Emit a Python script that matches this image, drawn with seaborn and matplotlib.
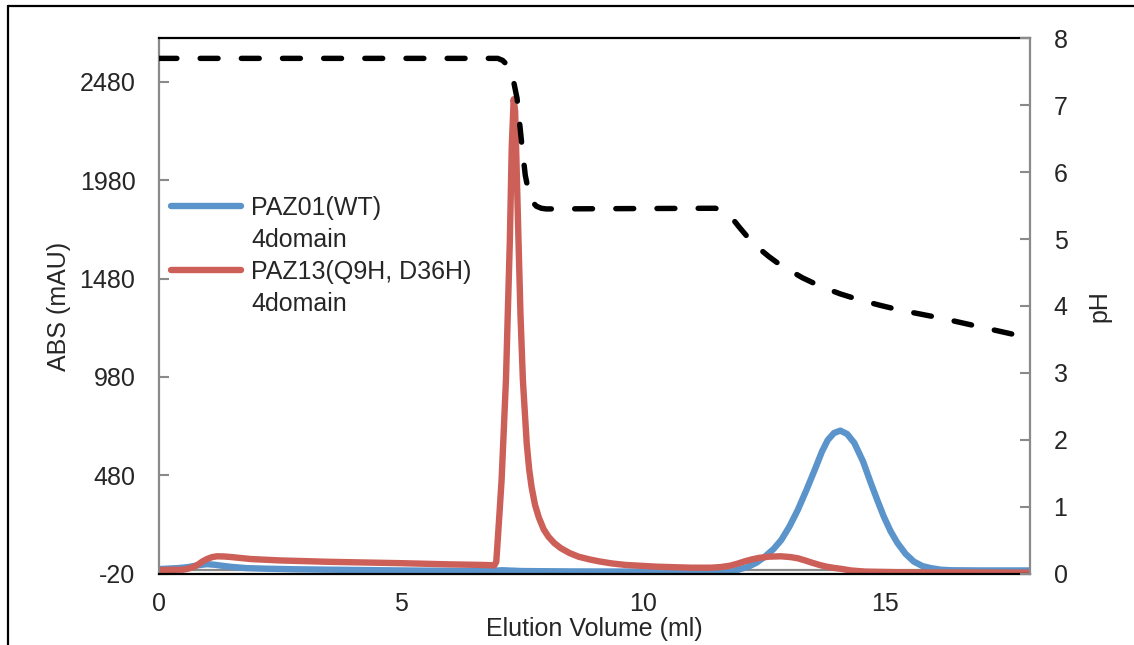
import matplotlib
matplotlib.use("Agg")
import matplotlib.pyplot as plt
from matplotlib.lines import Line2D
import pandas as pd
import seaborn as sns

# ---- data -------------------------------------------------------------
# PAZ01(WT) 4domain absorbance trace
wt_volume = [0.0, 0.4, 0.6, 0.8, 0.99, 1.15, 1.3, 1.5, 1.8, 2.2, 2.8, 3.5,
             5.0, 6.7, 7.1, 7.5, 8.5, 10.0, 11.5, 11.85, 12.0, 12.18, 12.35,
             12.52, 12.7, 12.86, 13.03, 13.2, 13.38, 13.55, 13.7, 13.82,
             13.95, 14.08, 14.22, 14.37, 14.55, 14.71, 14.85, 14.98, 15.12,
             15.26, 15.43, 15.6, 15.78, 15.95, 16.15, 16.36, 17.0, 18.0]
wt_abs = [3, 8, 13, 22, 28, 25, 20, 14, 8, 5, 2, 0,
          -4, -7, -3, -7, -9, -10, -11, -9, 2, 15, 36,
          66, 105, 151, 220, 303, 405, 507, 600, 659,
          695, 707, 690, 644, 550, 441, 350, 269, 195,
          136, 80, 41, 18, 8, 0, -3, -4, -4]

# PAZ13(Q9H, D36H) 4domain absorbance trace
mut_volume = [0.0, 0.5, 0.6, 0.7, 0.8, 0.9, 1.0, 1.1, 1.2, 1.35, 1.5, 1.9,
              2.5, 3.5, 5.0, 6.0, 6.7, 6.93, 6.97, 7.0, 7.04, 7.08, 7.12,
              7.17, 7.21, 7.25, 7.29, 7.33, 7.36, 7.39, 7.43, 7.47, 7.52,
              7.56, 7.6, 7.65, 7.7, 7.77, 7.85, 7.95, 8.05, 8.17, 8.3, 8.48,
              8.67, 8.9, 9.1, 9.35, 9.64, 10.3, 11.0, 11.4, 11.6, 11.8,
              11.95, 12.1, 12.25, 12.4, 12.6, 12.85, 13.05, 13.2, 13.35,
              13.5, 13.65, 13.8, 13.95, 14.1, 14.3, 14.6, 15.5, 18.0]
mut_abs = [-2, 0, 5, 12, 25, 42, 55, 64, 68, 67, 64, 54,
           47, 40, 33, 27, 24, 22, 40, 150, 300, 456, 680,
           964, 1320, 1667, 2150, 2392, 2330, 2050, 1667, 1300, 964,
           800, 640, 510, 420, 330, 265, 205, 167, 135, 110, 85,
           66, 52, 42, 32, 24, 15, 10, 10, 13, 20,
           30, 42, 52, 60, 66, 68, 64, 58, 47,
           35, 24, 15, 9, 4, -4, -10, -14, -15]

# pH gradient
ph_volume = [0.0, 7.0, 7.1, 7.2, 7.27, 7.33, 7.4, 7.5, 7.57, 7.64, 7.72,
             7.8, 7.9, 8.0, 11.5, 11.62, 11.76, 11.9, 12.0, 12.14, 12.28,
             12.45, 12.6, 12.77, 12.94, 13.3, 13.68, 14.08, 14.48, 14.9,
             15.3, 16.15, 16.95, 18.0]
ph_value = [7.7, 7.7, 7.67, 7.6, 7.5, 7.35, 7.1, 6.4, 5.95, 5.7, 5.55,
            5.49, 5.46, 5.45, 5.46, 5.43, 5.36, 5.26, 5.17, 5.05, 4.94,
            4.83, 4.74, 4.65, 4.57, 4.42, 4.29, 4.18, 4.09, 4.01,
            3.94, 3.82, 3.69, 3.52]

abs_ticks = [-20, 480, 980, 1480, 1980, 2480]
ph_ticks = [0, 1, 2, 3, 4, 5, 6, 7, 8]
vol_ticks = [0, 5, 10, 15]

wt_label = ["PAZ01(WT)", "4domain"]
mut_label = ["PAZ13(Q9H, D36H)", "4domain"]

# ---- style ------------------------------------------------------------
sns.set_style("white")
plt.rcParams["font.family"] = ["Liberation Sans", "DejaVu Sans"]
plt.rcParams["font.size"] = 18
plt.rcParams["axes.unicode_minus"] = False

BLUE = "#5B94CA"
RED = "#CC5F58"
GRAY = "#8A8A8A"
LW = 4.6

W, H = 1134, 645
fig = plt.figure(figsize=(W / 100, H / 100), dpi=100)
ax = fig.add_axes([159 / W, 1 - 573.6 / H, (1030 - 159) / W, (573.6 - 38.3) / H])

wt_df = pd.DataFrame({"volume": wt_volume, "abs": wt_abs})
mut_df = pd.DataFrame({"volume": mut_volume, "abs": mut_abs})
ph_df = pd.DataFrame({"volume": ph_volume, "pH": ph_value})

sns.lineplot(data=wt_df, x="volume", y="abs", ax=ax, color=BLUE,
             linewidth=LW, estimator=None, sort=False, legend=False,
             solid_capstyle="round", solid_joinstyle="round")
sns.lineplot(data=mut_df, x="volume", y="abs", ax=ax, color=RED,
             linewidth=LW, estimator=None, sort=False, legend=False,
             solid_capstyle="round", solid_joinstyle="round")

ax.axhline(0, color=GRAY, linewidth=1.6, zorder=1)

ax.set_xlim(0, 18)
ax.set_ylim(-20, 2702)
ax.set_xticks(vol_ticks)
ax.set_yticks(abs_ticks)
ax.tick_params(axis="x", direction="in", length=10, width=1.5, color=GRAY,
               pad=13, labelsize=18)
ax.tick_params(axis="y", direction="in", length=7, width=1.5, color=GRAY,
               pad=17, labelsize=18)
ax.set_xlabel("Elution Volume (ml)", fontsize=18, labelpad=1)
ax.set_ylabel("ABS (mAU)", fontsize=18, labelpad=6)

for side in ["top", "bottom"]:
    ax.spines[side].set_color("black")
    ax.spines[side].set_linewidth(1.6)
ax.spines["left"].set_color(GRAY)
ax.spines["left"].set_linewidth(1.6)
ax.spines["right"].set_visible(False)

# secondary axis for pH
ax2 = ax.twinx()
sns.lineplot(data=ph_df, x="volume", y="pH", ax=ax2, color="black",
             linewidth=3.9, estimator=None, sort=False, legend=False)
ph_line = ax2.get_lines()[-1]
ph_line.set_dashes((3.3, 4.3))
ph_line.set_dash_capstyle("round")
ph_line.set_dash_joinstyle("round")
ax2.set_ylim(0, 8)
ax2.set_yticks(ph_ticks)
ax2.tick_params(axis="y", direction="in", length=7, width=1.5, color=GRAY,
                pad=17, labelsize=18)
ax2.set_ylabel("pH", fontsize=18, labelpad=14)
ax2.spines["right"].set_color(GRAY)
ax2.spines["right"].set_linewidth(1.6)
for side in ["top", "bottom", "left"]:
    ax2.spines[side].set_visible(False)

# legend: coloured line on the first row of each two-line label
handles = [Line2D([], [], color=BLUE, linewidth=LW, solid_capstyle="round"),
           Line2D([], [], color="none"),
           Line2D([], [], color=RED, linewidth=LW, solid_capstyle="round"),
           Line2D([], [], color="none")]
labels = wt_label + mut_label
ax.legend(handles, labels, loc="upper left", bbox_to_anchor=(0.014, 0.705),
          frameon=False, fontsize=18, handlelength=2.8, handletextpad=0.4,
          labelspacing=0.32, borderpad=0, borderaxespad=0)

# outer border around the chart
fig.add_artist(Line2D([8 / W, 8 / W], [0, 1 - 6 / H], color="black",
                      linewidth=1.6, transform=fig.transFigure))
fig.add_artist(Line2D([8 / W, 1], [1 - 6 / H, 1 - 6 / H], color="black",
                      linewidth=1.6, transform=fig.transFigure))

fig.savefig("out.png", dpi=100)
